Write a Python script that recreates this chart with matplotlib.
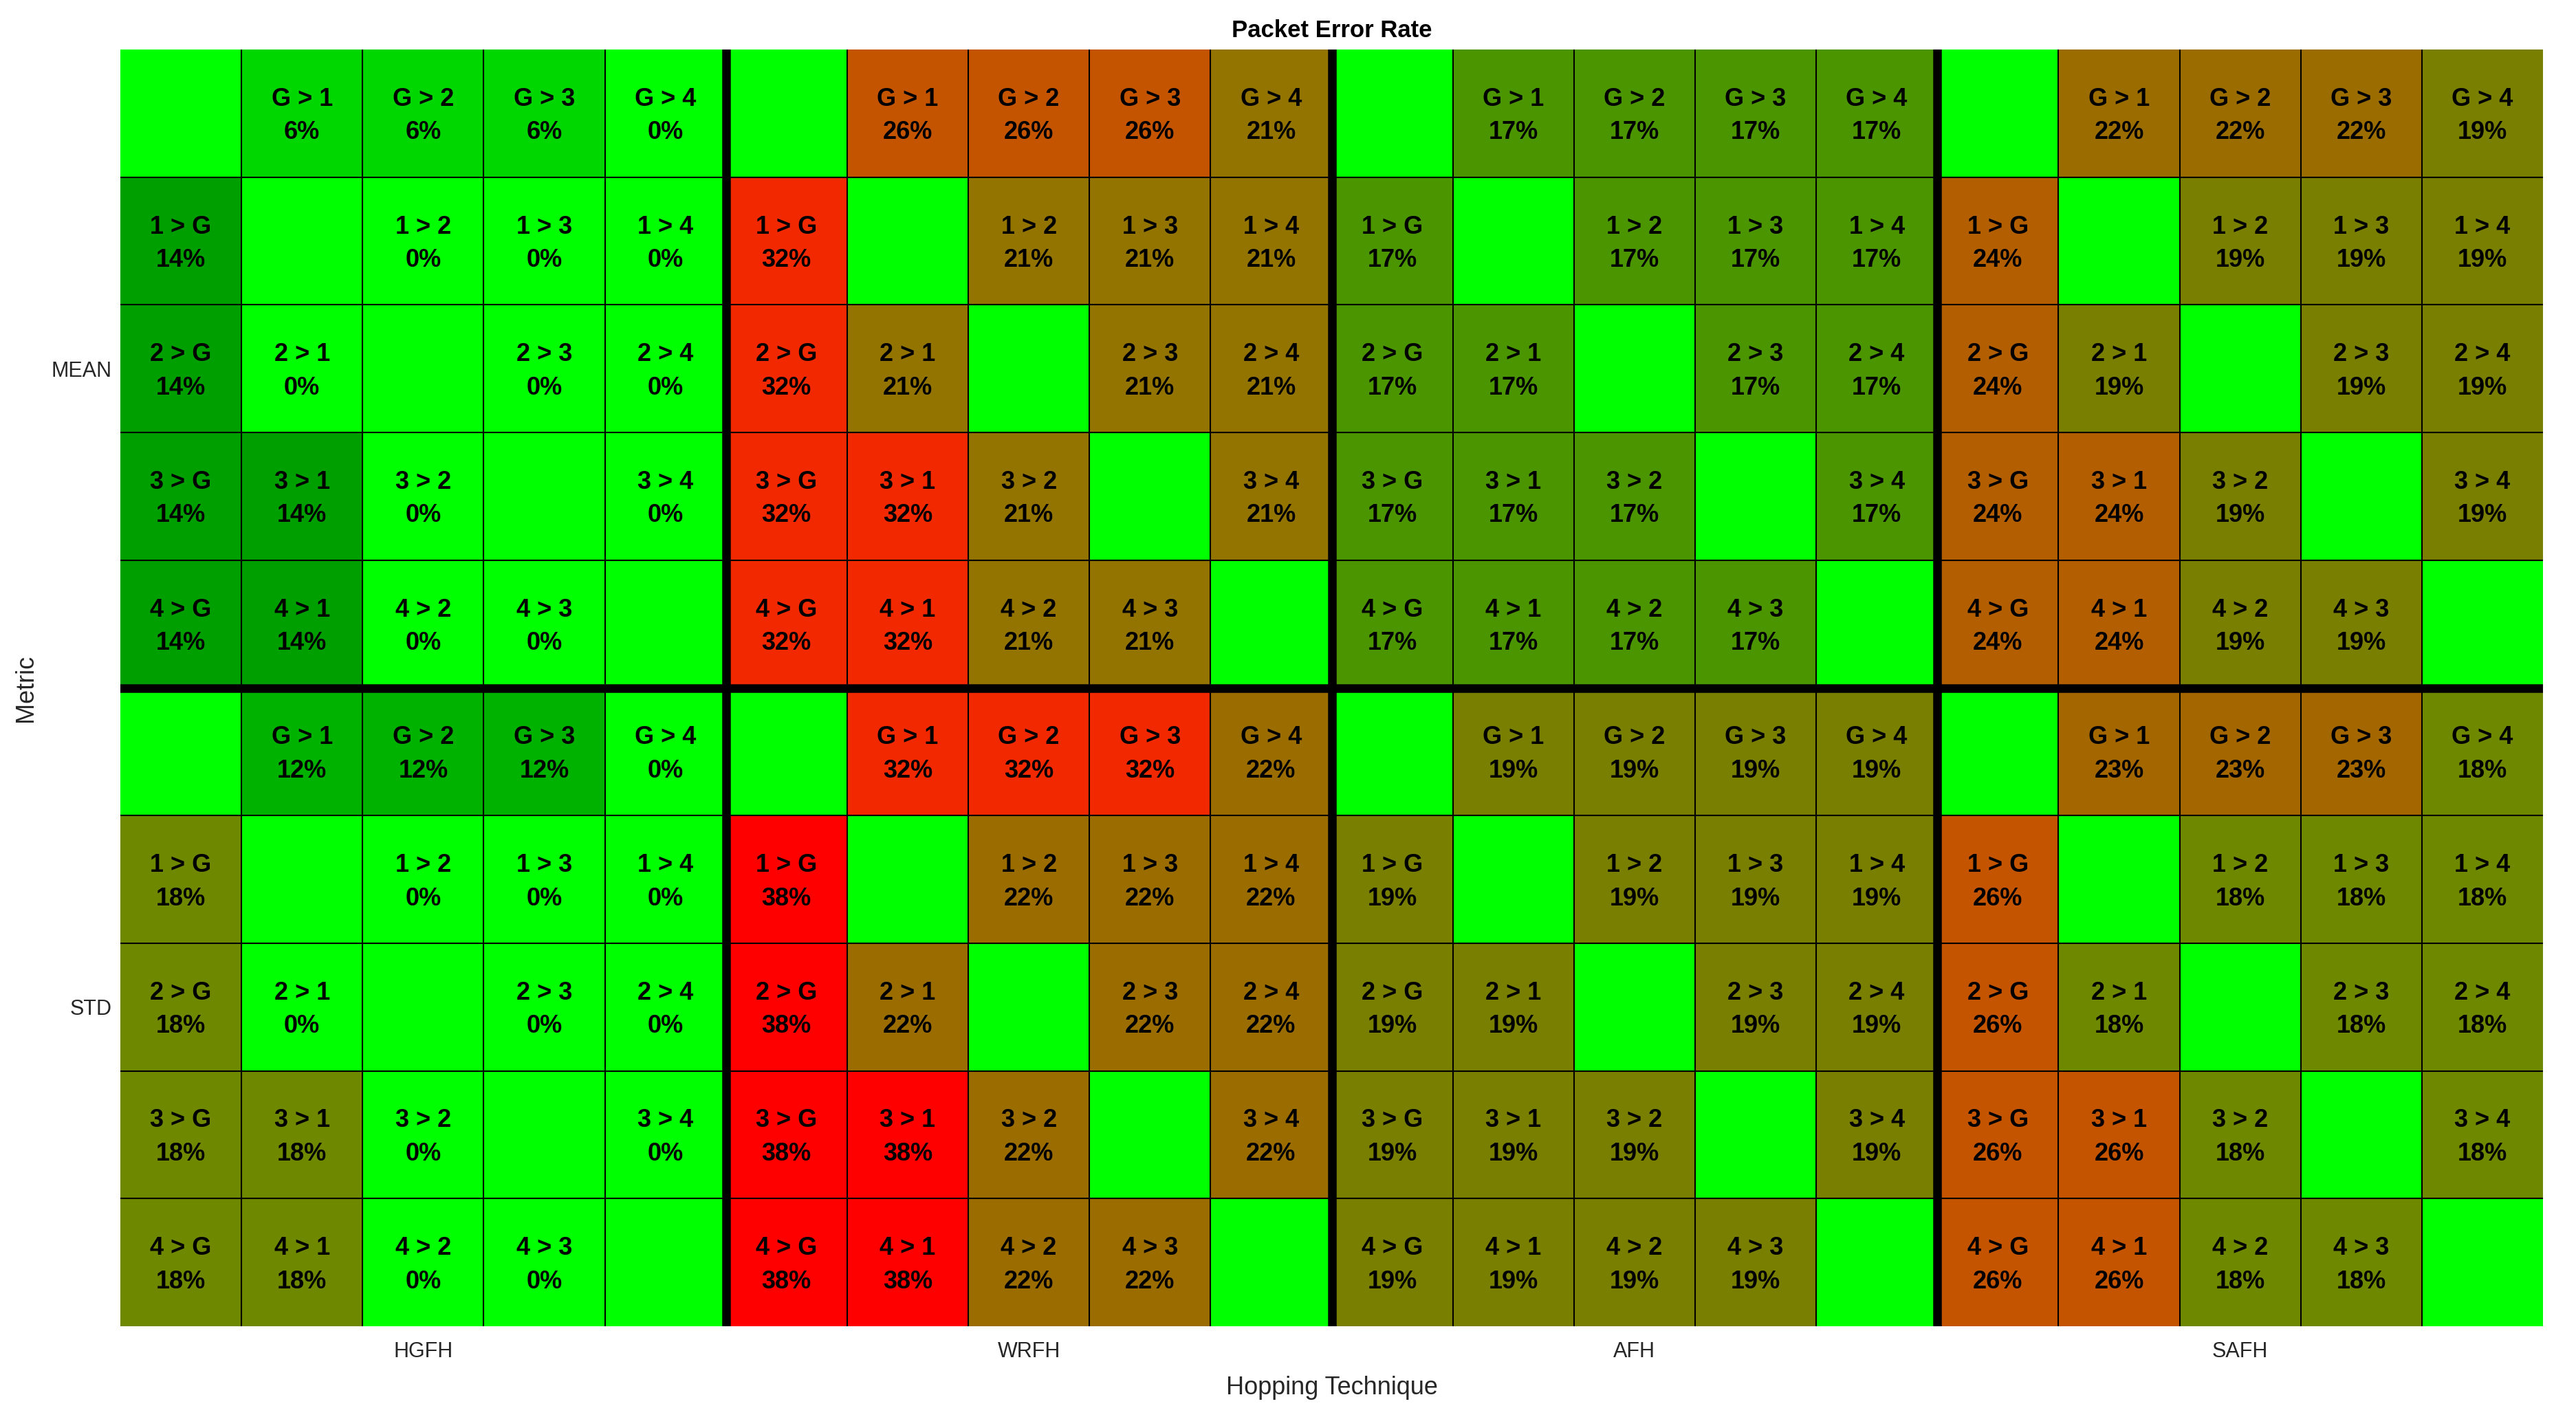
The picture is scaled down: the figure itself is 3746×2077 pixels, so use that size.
import numpy as np
import matplotlib
matplotlib.use('Agg')
from matplotlib import pyplot as plt
from matplotlib.colors import LinearSegmentedColormap, Normalize

plt.rcParams['font.family'] = ['Liberation Sans', 'DejaVu Sans']

nodes = ['G', '1', '2', '3', '4']
techniques = ['HGFH', 'WRFH', 'AFH', 'SAFH']
metrics = ['MEAN', 'STD']
nan = np.nan

# packet error rate in %, rows = source node, cols = destination node
mean_hgfh = [[nan, 6, 6, 6, 0],
             [14, nan, 0, 0, 0],
             [14, 0, nan, 0, 0],
             [14, 14, 0, nan, 0],
             [14, 14, 0, 0, nan]]
mean_wrfh = [[nan, 26, 26, 26, 21],
             [32, nan, 21, 21, 21],
             [32, 21, nan, 21, 21],
             [32, 32, 21, nan, 21],
             [32, 32, 21, 21, nan]]
mean_afh = [[nan, 17, 17, 17, 17],
            [17, nan, 17, 17, 17],
            [17, 17, nan, 17, 17],
            [17, 17, 17, nan, 17],
            [17, 17, 17, 17, nan]]
mean_safh = [[nan, 22, 22, 22, 19],
             [24, nan, 19, 19, 19],
             [24, 19, nan, 19, 19],
             [24, 24, 19, nan, 19],
             [24, 24, 19, 19, nan]]

std_hgfh = [[nan, 12, 12, 12, 0],
            [18, nan, 0, 0, 0],
            [18, 0, nan, 0, 0],
            [18, 18, 0, nan, 0],
            [18, 18, 0, 0, nan]]
std_wrfh = [[nan, 32, 32, 32, 22],
            [38, nan, 22, 22, 22],
            [38, 22, nan, 22, 22],
            [38, 38, 22, nan, 22],
            [38, 38, 22, 22, nan]]
std_afh = [[nan, 19, 19, 19, 19],
           [19, nan, 19, 19, 19],
           [19, 19, nan, 19, 19],
           [19, 19, 19, nan, 19],
           [19, 19, 19, 19, nan]]
std_safh = [[nan, 23, 23, 23, 18],
            [26, nan, 18, 18, 18],
            [26, 18, nan, 18, 18],
            [26, 26, 18, nan, 18],
            [26, 26, 18, 18, nan]]

# colour scale (green -> red) sampled from the figure
cmap_levels = [0, 6, 12, 14, 17, 18, 19, 21, 22, 23, 24, 26, 32, 38]
cmap_colors = ['#00ff00', '#00d600', '#00b200', '#00a000', '#4c9600', '#6e8a00',
               '#788000', '#937500', '#9b6e00', '#a56700', '#b45e00', '#c45500',
               '#f22a00', '#ff0000']

top = np.hstack([mean_hgfh, mean_wrfh, mean_afh, mean_safh])
bottom = np.hstack([std_hgfh, std_wrfh, std_afh, std_safh])
grid = np.vstack([top, bottom])
n = len(nodes)
nrows, ncols = grid.shape

vmax = cmap_levels[-1]
cmap = LinearSegmentedColormap.from_list(
    'per', [(v / vmax, c) for v, c in zip(cmap_levels, cmap_colors)])

fig = plt.figure(figsize=(37.46, 20.77), dpi=100)
ax = fig.add_axes([175 / 3746, 1 - 1929 / 2077, (3698 - 175) / 3746, (1929 - 72) / 2077])

ax.imshow(np.nan_to_num(grid, nan=0.0), cmap=cmap, norm=Normalize(0, vmax),
          aspect='auto', interpolation='nearest')

for r in range(nrows):
    for c in range(ncols):
        v = grid[r, c]
        if np.isnan(v):
            continue
        lbl = nodes[r % n] + ' > ' + nodes[c % n] + '\n' + '%d%%' % v
        ax.text(c, r + 0.02, lbl, ha='center', va='center', fontsize=26,
                fontweight='bold', linespacing=1.5)

# cell borders
for c in range(1, ncols):
    lw = 9 if c % n == 0 else 1.5
    ax.axvline(c - 0.5, color='black', lw=lw)
for r in range(1, nrows):
    lw = 9 if r % n == 0 else 1.5
    ax.axhline(r - 0.5, color='black', lw=lw)

ax.set_xlim(-0.5, ncols - 0.5)
ax.set_ylim(nrows - 0.5, -0.5)
for s in ax.spines.values():
    s.set_visible(False)

ax.set_xticks([n * i + (n - 1) / 2 for i in range(len(techniques))])
ax.set_xticklabels(techniques)
ax.set_yticks([n * i + (n - 1) / 2 for i in range(len(metrics))])
ax.set_yticklabels(metrics)
ax.tick_params(axis='x', length=0, pad=16, labelsize=22, colors='#262626')
ax.tick_params(axis='y', length=0, pad=9, labelsize=22, colors='#262626')

ax.set_xlabel('Hopping Technique', fontsize=26, labelpad=14, color='#262626')
ax.set_ylabel('Metric', fontsize=26, labelpad=14, color='#262626')
ax.set_title('Packet Error Rate', fontsize=25, fontweight='bold', pad=13)

fig.savefig('out.png', dpi=100)
